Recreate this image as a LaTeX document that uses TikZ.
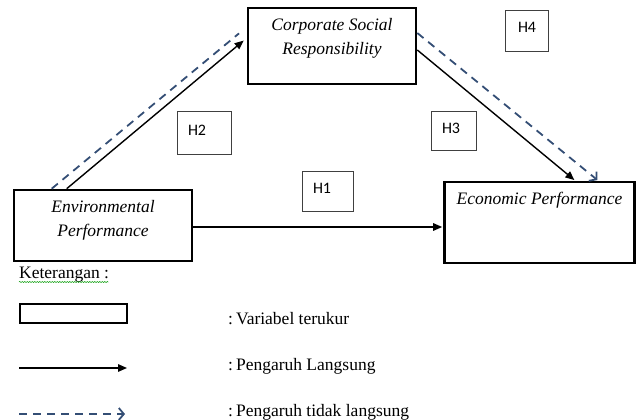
\documentclass[tikz,border=0pt]{standalone}
\usepackage{fontspec}
\setmainfont{Liberation Serif}
\newfontfamily\hfont{Carlito}
\usetikzlibrary{arrows.meta,positioning,decorations.pathmorphing}
\definecolor{dashblue}{RGB}{52,78,117}
\tikzset{
  var/.style={draw, line width=2.6pt, inner sep=0pt},
  vartext/.style={font=\fontsize{17.5}{24}\selectfont\itshape, align=center, inner sep=0pt},
  hyp/.style={draw=black!75, line width=0.8pt, font=\hfont\fontsize{16}{16}\selectfont,
    inner xsep=11pt, inner ysep=0pt, align=left, text height=10pt, text depth=5pt},
  direct/.style={-{Triangle[length=9pt,width=7.5pt]}, line width=1.4pt},
  indirect/.style={-{Straight Barb[length=5pt,width=12pt]}, dashblue, line width=1.8pt, dash pattern=on 8pt off 6pt},
  legtext/.style={font=\fontsize{17.5}{20}\selectfont, anchor=base west, inner sep=0pt}
}
\begin{document}
\begin{tikzpicture}[x=1pt,y=-1pt,shorten >=1pt]
  \useasboundingbox (0,0) rectangle (637,420);
  \node[var, minimum width=178pt, minimum height=71pt] (ep) at (103,225.5) {};
  \node[var, minimum width=168pt, minimum height=76pt] (csr) at (332,46) {};
  \node[var, minimum width=190pt, minimum height=81pt] (econ) at (539.5,222.5) {};
  \node[vartext, below=11pt of ep.north] (eptext) {Environmental\\Performance};
  \node[vartext, below=11pt of csr.north] (csrtext) {Corporate Social\\Responsibility};
  \node[vartext, below=11pt of econ.north] (econtext) {Economic Performance};

  \node[hyp, text width=29pt, minimum height=40pt] (h1) at (327.5,191) {H1};
  \node[hyp, text width=32pt, minimum height=43pt] (h2) at (204,132.5) {H2};
  \node[hyp, text width=23pt, minimum height=39pt] (h3) at (453.5,130.5) {H3};
  \node[hyp, inner xsep=13pt, text width=17pt, minimum height=41pt] (h4) at (526.5,30.5) {H4};

  \draw[indirect, -, shorten >=10pt] ([xshift=39pt]ep.north west) -- ([yshift=19pt]csr.west);
  \draw[direct, shorten >=4pt] ([xshift=54pt]ep.north west) -- ([yshift=8pt]csr.west);
  \draw[direct] ([yshift=-4pt]csr.east) -- ([xshift=132pt]econ.north west);
  \draw[indirect] ([yshift=13pt]csr.east) -- ([xshift=155pt]econ.north west);
  \draw[direct] ([yshift=-1.5pt]ep.east) -- ([yshift=-1.5pt]ep.east -| econ.west);

  \node[legtext] (ket) at (19,278) {Keterangan :};
  \draw[green!60!black, line width=0.5pt, decorate, decoration={snake, amplitude=0.6pt, segment length=2.5pt}]
    ([yshift=-4pt]ket.base west) -- ([yshift=-4pt]ket.base east);
  \node[var, line width=2.4pt, minimum width=107pt, minimum height=19pt] (legvar) at (73.5,313.5) {};
  \coordinate (ld1) at (19,368);
  \coordinate (ld2) at (128,368);
  \coordinate (li1) at (19,414);
  \coordinate (li2) at (126,414);
  \draw[direct] (ld1) -- (ld2);
  \draw[indirect] (li1) -- (li2);
  \node[legtext] (tvar) at (228,324) {:\hspace{0.17em}Variabel terukur};
  \node[legtext] (tdirect) at (228,370) {:\hspace{0.17em}Pengaruh Langsung};
  \node[legtext] (tindirect) at (228,416) {:\hspace{0.17em}Pengaruh tidak langsung};
\end{tikzpicture}
\end{document}
